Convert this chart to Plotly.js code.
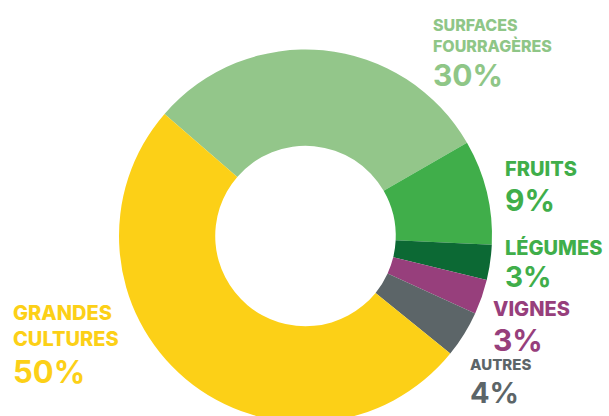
<!DOCTYPE html>
<html>
<head>
<meta charset="utf-8">
<script src="https://cdn.plot.ly/plotly-3.0.1.min.js"></script>
<style>
html,body{margin:0;padding:0;width:609px;height:416px;overflow:hidden;background:#fff;}
#chart{width:609px;height:430px;}
</style>
</head>
<body>
<div id="chart"></div>
<script>
// Data
var categories = ["Surfaces fourragères", "Fruits", "Légumes", "Vignes", "Autres", "Grandes cultures"];
var shares = [30, 9, 3, 3, 4, 50];
var sliceColors = ["#93c68a", "#40ae4a", "#0c6934", "#973f7c", "#5c6568", "#fcd017"];
var labelLines = [["SURFACES", "FOURRAGÈRES"], ["FRUITS"], ["LÉGUMES"], ["VIGNES"], ["AUTRES"], ["GRANDES", "CULTURES"]];
var labelColors = ["#8fc687", "#40ae4a", "#40ae4a", "#973f7c", "#5c6568", "#fcd017"];

// Layout-only configuration (pixel positions of the label blocks)
var W = 609, H = 430;
var M = {l: 118.5, r: 116.5, t: 49, b: 7};
var side = 374;
function px(x){ return (x - M.l) / side; }
function py(y){ return (H - M.b - y) / side; }
var labelLayout = [
  {x: 433.5, lines: [25, 46], pct: 74.5, ls: 16, ps: 30},
  {x: 505.5, lines: [168.5], pct: 200, ls: 20, ps: 30},
  {x: 505.5, lines: [247], pct: 277, ls: 20, ps: 28},
  {x: 493.5, lines: [308.5], pct: 340, ls: 20, ps: 30},
  {x: 470.5, lines: [364.5], pct: 392, ls: 15, ps: 29},
  {x: 12.5,  lines: [312.5, 339], pct: 371, ls: 20, ps: 31}
];
var FONT = "Inter, Lato, Arial, sans-serif";

var annotations = [];
categories.forEach(function(c, i){
  var L = labelLayout[i];
  labelLines[i].forEach(function(t, j){
    annotations.push({
      text: t, xref: "paper", yref: "paper",
      x: px(L.x), y: py(L.lines[j]), xanchor: "left", yanchor: "middle",
      borderpad: 0, borderwidth: 0,
      showarrow: false, font: {family: FONT, size: L.ls, color: labelColors[i], weight: 800}
    });
  });
  annotations.push({
    text: shares[i] + "%", xref: "paper", yref: "paper",
    x: px(L.x), y: py(L.pct), xanchor: "left", yanchor: "middle",
    borderpad: 0, borderwidth: 0,
    showarrow: false, font: {family: FONT, size: L.ps, color: labelColors[i], weight: 700}
  });
});

var trace = {
  type: "pie",
  labels: categories,
  values: shares,
  sort: false,
  direction: "clockwise",
  rotation: -49.1,
  hole: 0.484,
  marker: {colors: sliceColors, line: {width: 0}},
  textinfo: "none",
  hoverinfo: "label+percent",
  showlegend: false
};

var layout = {
  width: W, height: H,
  margin: M,
  paper_bgcolor: "#ffffff",
  plot_bgcolor: "#ffffff",
  showlegend: false,
  annotations: annotations
};

Plotly.newPlot("chart", [trace], layout, {displayModeBar: false, staticPlot: true});
</script>
</body>
</html>
